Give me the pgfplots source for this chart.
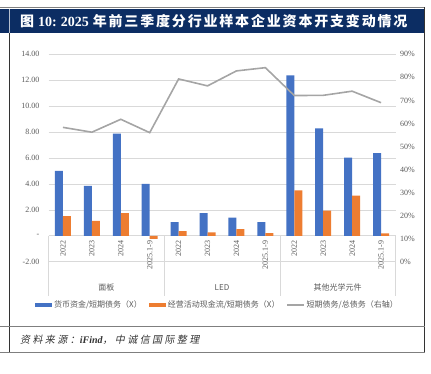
\documentclass[border=0pt]{standalone}
\usepackage{pgfplots}
\usepackage{pgfplotstable}
\pgfplotsset{compat=1.18}
\usepackage{fontspec}
\setmainfont{Liberation Serif}
\newfontfamily\cjk{Noto Sans CJK SC}
\newfontfamily\cjktitle[LetterSpace=13]{Noto Sans CJK SC}
\newfontfamily\cjkit[FakeSlant=0.2,LetterSpace=24]{Noto Sans CJK SC}
\definecolor{cblue}{HTML}{4472C4}
\definecolor{corange}{HTML}{ED7D31}
\definecolor{cgrey}{HTML}{A5A5A5}
\definecolor{gridc}{HTML}{D9D9D9}
\definecolor{txt}{HTML}{595959}
\definecolor{navy}{HTML}{0C2D63}
\definecolor{frame}{HTML}{7F7F7F}

\pgfplotstableread{
x money cash ratio
0 5.00 1.52 58.3
1 3.85 1.15 56.2
2 7.88 1.74 61.8
3 4.00 -0.23 56.0
4 1.05 0.36 79.3
5 1.74 0.26 76.3
6 1.41 0.51 82.8
7 1.05 0.20 84.2
8 12.38 3.51 72.1
9 8.28 1.95 72.2
10 6.03 3.10 74.0
11 6.38 0.18 69.0
}\data

\begin{document}
\begin{tikzpicture}
\useasboundingbox (0,0) rectangle (431pt,-373pt);
% title bar and frame
\fill[navy] (0pt,-9pt) rectangle (425pt,-33pt);
\draw[frame, line width=0.8pt] (0pt,-7pt) -- (425pt,-7pt);
\draw[white!70!navy, line width=0.5pt] (9pt,-9pt) -- (9pt,-33pt);
\draw[black!80, line width=0.8pt] (9pt,-33pt) -- (9pt,-352pt);
\draw[black!80, line width=0.8pt] (424.5pt,-7pt) -- (424.5pt,-352pt);
\draw[frame, line width=0.8pt] (0pt,-326pt) -- (425pt,-326pt);
\draw[frame, line width=0.8pt] (0pt,-352pt) -- (425pt,-352pt);
\node[anchor=west, text=white, inner sep=0pt, font=\fontsize{14}{16}\selectfont] at (20pt,-21pt)
  {\cjktitle\bfseries 图\hspace{4pt}{\rmfamily\bfseries 10:\hspace{4pt}2025}\hspace{4pt}年前三季度分行业样本企业资本开支变动情况};
\node[anchor=west, text=black!80, inner sep=0pt, font=\fontsize{10}{12}\selectfont] at (20pt,-340pt)
  {\cjkit 资料来源：{\rmfamily\bfseries\itshape iFind}，中诚信国际整理};

\begin{axis}[
  at={(48.5pt,-54.3pt)}, anchor=north west, scale only axis,
  width=347pt, height=207.4pt,
  xmin=-0.5, xmax=11.5, ymin=-2, ymax=14,
  ytick={-2,0,2,4,6,8,10,12,14},
  yticklabels={-2.00,{-},2.00,4.00,6.00,8.00,10.00,12.00,14.00},
  ymajorgrids, grid style={gridc, line width=0.6pt},
  xtick=\empty, axis line style={draw=none}, major tick length=0pt,
  yticklabel style={font=\fontsize{8}{9}\selectfont, text=txt, inner sep=0pt, xshift=-9pt, anchor=east},
  clip=false,
  legend columns=3,
  legend style={at={(0.487,-0.209)}, anchor=center, draw=none, fill=none,
    font=\cjk\fontsize{8}{9}\selectfont, text=txt, inner xsep=0pt,
    /tikz/every even column/.append style={column sep=5pt}},
  legend cell align=left,
]
\addplot[ybar, bar width=8pt, bar shift=-4pt, fill=cblue, draw=none,
  legend image code/.code={\fill[cblue] (0pt,-1.75pt) rectangle (17pt,1.75pt);}]
  table[x=x,y=money]{\data};
\addlegendentry{货币资金/短期债务（X）}
\addplot[ybar, bar width=8pt, bar shift=4pt, fill=corange, draw=none,
  legend image code/.code={\fill[corange] (0pt,-1.75pt) rectangle (17pt,1.75pt);}]
  table[x=x,y=cash]{\data};
\addlegendentry{经营活动现金流/短期债务（X）}
\addlegendimage{legend image code/.code={\draw[cgrey, line width=1.2pt] (0pt,0pt) -- (17pt,0pt);}}
\addlegendentry{短期债务/总债务（右轴）}

% category separators
\draw[gridc, line width=0.6pt] (axis cs:-0.5,0) -- (axis cs:-0.5,-4.65);
\draw[gridc, line width=0.6pt] (axis cs:3.5,0) -- (axis cs:3.5,-4.65);
\draw[gridc, line width=0.6pt] (axis cs:7.5,0) -- (axis cs:7.5,-4.65);
\draw[gridc, line width=0.6pt] (axis cs:11.5,0) -- (axis cs:11.5,-4.65);
% year labels
\tikzset{yl/.style={yshift=-5pt, rotate=90, anchor=east, inner sep=0pt, text=txt, font=\fontsize{8}{9}\selectfont}}
\node[yl] at (axis cs:0,0) {2022};
\node[yl] at (axis cs:1,0) {2023};
\node[yl] at (axis cs:2,0) {2024};
\node[yl] at (axis cs:3,0) {2025.1-9};
\node[yl] at (axis cs:4,0) {2022};
\node[yl] at (axis cs:5,0) {2023};
\node[yl] at (axis cs:6,0) {2024};
\node[yl] at (axis cs:7,0) {2025.1-9};
\node[yl] at (axis cs:8,0) {2022};
\node[yl] at (axis cs:9,0) {2023};
\node[yl] at (axis cs:10,0) {2024};
\node[yl] at (axis cs:11,0) {2025.1-9};
% group labels
\tikzset{gl/.style={inner sep=0pt, text=txt, font=\cjk\fontsize{8}{9}\selectfont}}
\node[gl] at (axis cs:1.5,-3.96) {面板};
\node[gl] at (axis cs:5.5,-3.96) {LED};
\node[gl] at (axis cs:9.5,-3.96) {其他光学元件};
\end{axis}

\begin{axis}[
  at={(48.5pt,-54.3pt)}, anchor=north west, scale only axis,
  width=347pt, height=207.4pt,
  xmin=-0.5, xmax=11.5, ymin=0, ymax=90,
  axis y line*=right, axis x line=none,
  ytick={0,10,...,90},
  yticklabels={0\%,10\%,20\%,30\%,40\%,50\%,60\%,70\%,80\%,90\%},
  axis line style={draw=none}, major tick length=0pt,
  yticklabel style={font=\fontsize{8}{9}\selectfont, text=txt, inner sep=0pt, xshift=4.5pt, anchor=west},
]
\addplot[cgrey, line width=1.6pt] table[x=x,y=ratio]{\data};
\end{axis}
\end{tikzpicture}
\end{document}
